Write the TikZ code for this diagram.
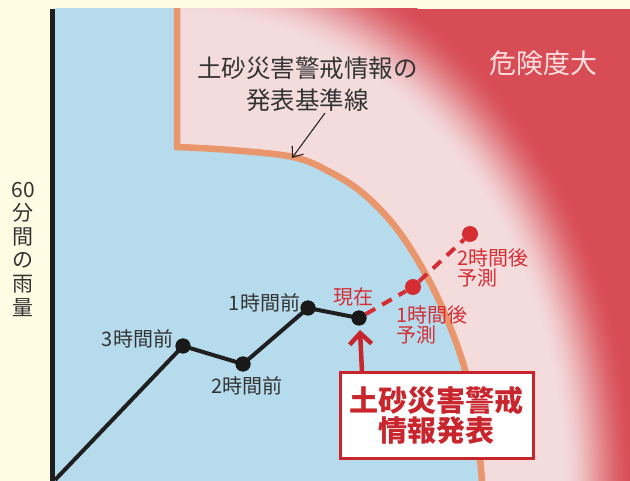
\documentclass[tikz,border=0pt]{standalone}
\usepackage{fontspec}
\newfontfamily\jp{Noto Sans CJK JP}
\usetikzlibrary{arrows.meta}
\definecolor{cream}{HTML}{FFFCE4}
\definecolor{skyb}{HTML}{B5DBEC}
\definecolor{bline}{HTML}{E9966C}
\definecolor{pale}{HTML}{F4DCDD}
\definecolor{dred}{HTML}{D84C55}
\definecolor{txtred}{HTML}{C8252D}
\definecolor{fred}{HTML}{D52D33}
\definecolor{dtext}{HTML}{333333}
\begin{document}
\begin{tikzpicture}[x=1pt,y=-1pt,
  bdot/.style={circle, fill=black!90, inner sep=0pt, minimum size=15pt},
  rdot/.style={circle, fill=fred, inner sep=0pt, minimum size=16pt},
  lab/.style={text=dtext, inner sep=0pt, font=\jp\fontsize{20pt}{20pt}\selectfont},
  rlab/.style={text=fred, inner sep=0pt, font=\jp\fontsize{20pt}{20pt}\selectfont},
]
\useasboundingbox (0,0) rectangle (630,481);
\fill[cream] (0,0) rectangle (630,481);
\begin{scope}
  \clip (55,9) rectangle (630,481);
  \fill[dred] (55,9) rectangle (630,481);
  \foreach \i in {0,...,60} {
    \pgfmathsetmacro\t{1-\i/60}
    \pgfmathsetmacro\p{100*(3*\t*\t-2*\t*\t*\t)}
    \pgfmathsetmacro\ra{385+75*\t}
    \pgfmathsetmacro\rb{465+90*\t}
    \fill[dred!\p!pale] (176,481) ellipse [x radius=\ra, y radius=\rb];
  }
  \fill[skyb] (50,0) -- (177,0) -- (177,147) -- plot[smooth,tension=0.6] coordinates {(177,147) (230,150) (293,157) (330,172) (365,195) (400,233) (433,288) (457,345) (470,390) (478,440) (482,481) (483,495)} -- (50,495) -- cycle;
  \draw[bline, line width=6.5pt] (177,0) -- (177,147) -- plot[smooth,tension=0.6] coordinates {(177,147) (230,150) (293,157) (330,172) (365,195) (400,233) (433,288) (457,345) (470,390) (478,440) (482,481) (483,495)};
\end{scope}
% axis
\draw[line width=5pt, black!88] (52.5,9) -- (52.5,481);
% y label
\node[font=\jp\fontsize{21pt}{23.6pt}\selectfont, text=dtext, align=center, inner sep=0pt] (yl) at (23,249) {60\\分\\間\\の\\雨\\量};
% title label
\node[font=\jp\fontsize{24.5pt}{32pt}\selectfont, text=dtext, align=center, inner sep=0pt] (tl) at (307.5,84) {土砂災害警戒情報の\\発表基準線};
\coordinate (as) at (325,113);
\coordinate (at) at (292,158);
\draw[-{Straight Barb[length=9pt,width=14pt]}, line width=1.1pt, black!85] (as) -- (at);
% danger label
\node[font=\jp\fontsize{27pt}{27pt}\selectfont, text=white!88!red, inner sep=0pt] (dz) at (543,63) {危険度大};
% data
\coordinate (p0) at (55,480);
\node[bdot] (p3) at (183,346) {};
\node[bdot] (p2) at (243,364) {};
\node[bdot] (p1) at (308,308) {};
\node[bdot] (pnow) at (359,318) {};
\node[rdot] (pf1) at (413,287) {};
\node[rdot] (pf2) at (470,234) {};
\draw[line width=4pt, black!88] (p0) -- (p3.center) -- (p2.center) -- (p1.center) -- (pnow.center);
\node[bdot] at (p3) {};
\node[bdot] at (p2) {};
\node[bdot] at (p1) {};
\node[bdot] at (pnow) {};
\draw[fred, line width=4pt, dash pattern=on 11pt off 8pt] (pnow) -- (pf1);
\draw[fred, line width=4pt, dash pattern=on 11pt off 8pt] (pf1) -- (pf2);
% labels
\node[lab] (l3) at (137.5,339) {3時間前};
\node[lab] (l2) at (247,386) {2時間前};
\node[lab] (l1) at (264.5,303) {1時間前};
\node[rlab] (lnow) at (353,297) {現在};
\node[rlab, align=left, anchor=west] (lf1) at (396,325) {1時間後\\予測};
\node[rlab, align=left, anchor=west] (lf2) at (457,268) {2時間後\\予測};
% box
\node[draw=txtred, line width=3pt, fill=white, minimum width=193pt, minimum height=85pt, inner sep=0pt, font=\jp\bfseries\fontsize{29pt}{30pt}\selectfont, text=txtred, align=center] (box) at (436.5,415.5) {土砂災害警戒\\情報発表};
\coordinate (abase) at (362,372);
\coordinate (atip) at (360,330);
\draw[txtred, line width=4.5pt, -{Straight Barb[length=11pt,width=22pt]}] (abase) -- (atip);
\end{tikzpicture}
\end{document}
